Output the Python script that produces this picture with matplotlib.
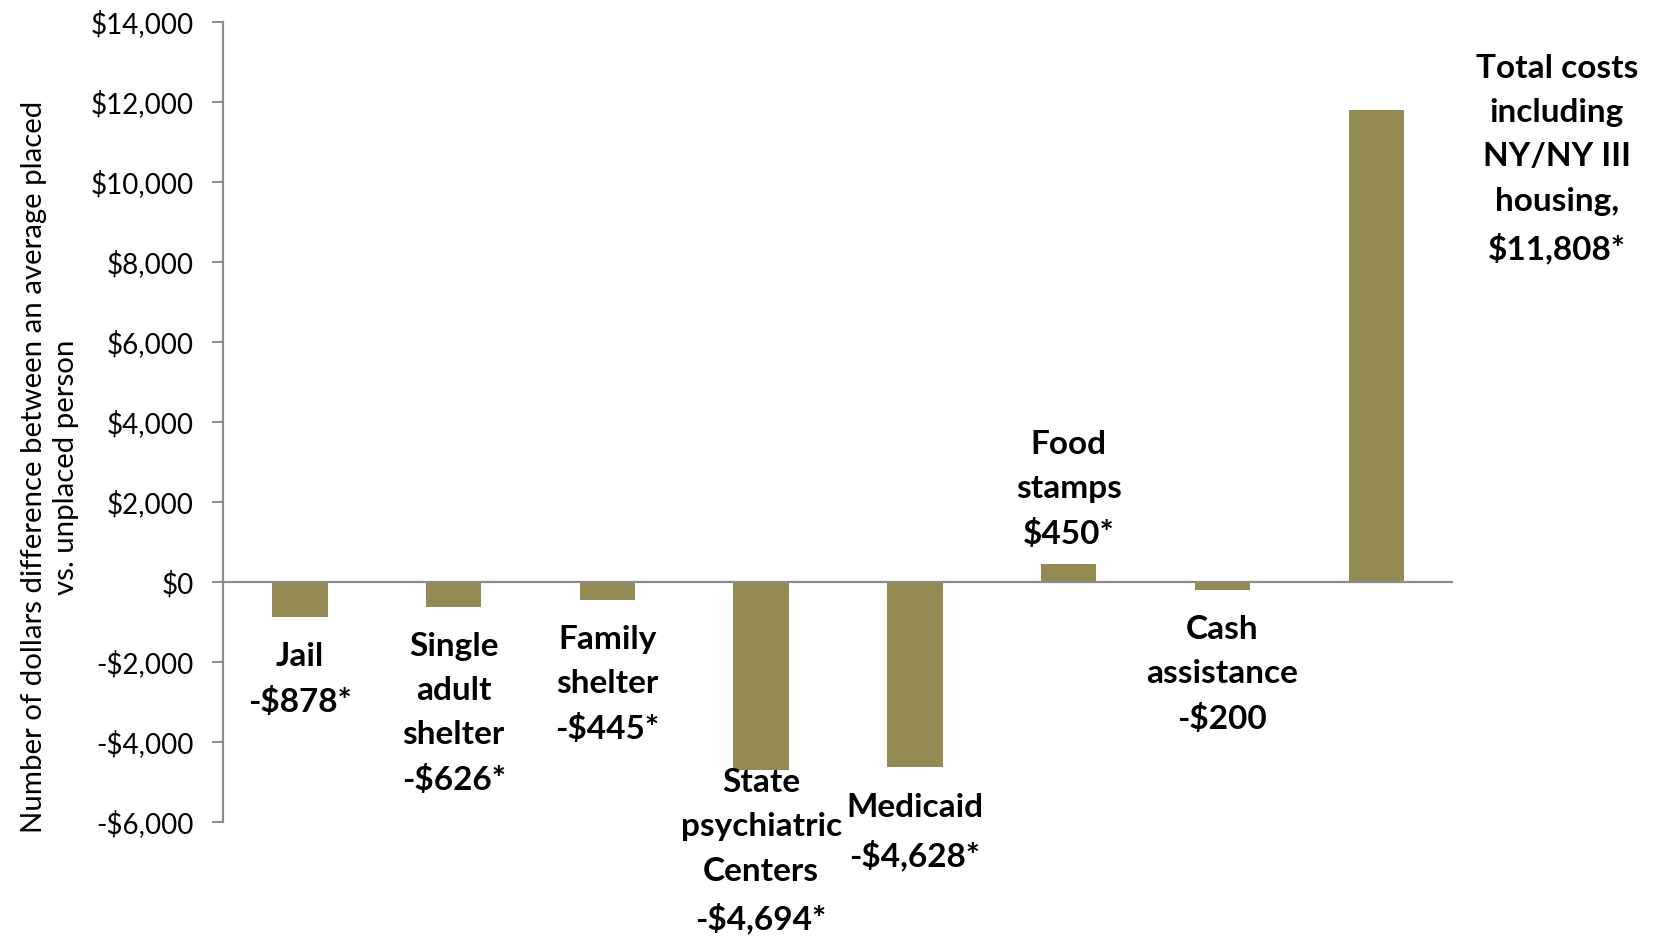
import numpy as np
import matplotlib.pyplot as plt

# cost difference per person, placed vs. unplaced
categories = ["Jail", "Single\nadult\nshelter", "Family\nshelter",
              "State\npsychiatric\nCenters", "Medicaid", "Food\nstamps",
              "Cash\nassistance", "Total costs\nincluding\nNY/NY III\nhousing,"]
values = [-878, -626, -445, -4694, -4628, 450, -200, 11808]
value_text = ["-$878*", "-$626*", "-$445*", "-$4,694*", "-$4,628*",
              "$450*", "-$200", "$11,808*"]

# label offsets in points from the bar end (dx, dy, vertical anchor)
offsets = [(0, -18, "top"), (0, -18, "top"), (0, -18, "top"), (0, 1, "top"),
           (0, -19, "top"), (0, 11, "bottom"), (0, -18, "top"), (130, 40, "top")]

plt.rcParams['font.family'] = ['Lato', 'DejaVu Sans']

fig = plt.figure(figsize=(16.58, 9.38), dpi=100)
ax = fig.add_axes([0.1345, 0.1237, 0.7419, 0.8528])

x = np.arange(len(values))
ax.bar(x, values, width=0.36, color="#948A54", zorder=2)
ax.axhline(0, color="#8C8C8C", lw=1.6, zorder=3)

ax.set_xlim(-0.5, len(values) - 0.5)
ax.set_ylim(-6000, 14000)
ax.set_yticks(np.arange(-6000, 14001, 2000))
ax.set_yticklabels([("-$" if v < 0 else "$") + f"{abs(v):,}" for v in range(-6000, 14001, 2000)])
ax.set_xticks([])
ax.tick_params(axis="y", length=8, width=1.4, color="#8C8C8C", pad=13, labelsize=20)

for s in ["top", "right", "bottom"]:
    ax.spines[s].set_visible(False)
ax.spines["left"].set_color("#8C8C8C")
ax.spines["left"].set_linewidth(1.6)

for i, (cat, v, vt) in enumerate(zip(categories, values, value_text)):
    dx, dy, va = offsets[i]
    ax.annotate(cat + "\n" + vt, (i, v), xytext=(dx, dy), textcoords="offset points",
                ha="center", va=va, fontsize=24, fontweight="bold",
                linespacing=1.63, annotation_clip=False)

fig.text(0.030, 0.502, "Number of dollars difference between an average placed\nvs. unplaced person",
         rotation=90, ha="center", va="center", fontsize=21.2, linespacing=1.28)

fig.savefig("out.png", dpi=100)
